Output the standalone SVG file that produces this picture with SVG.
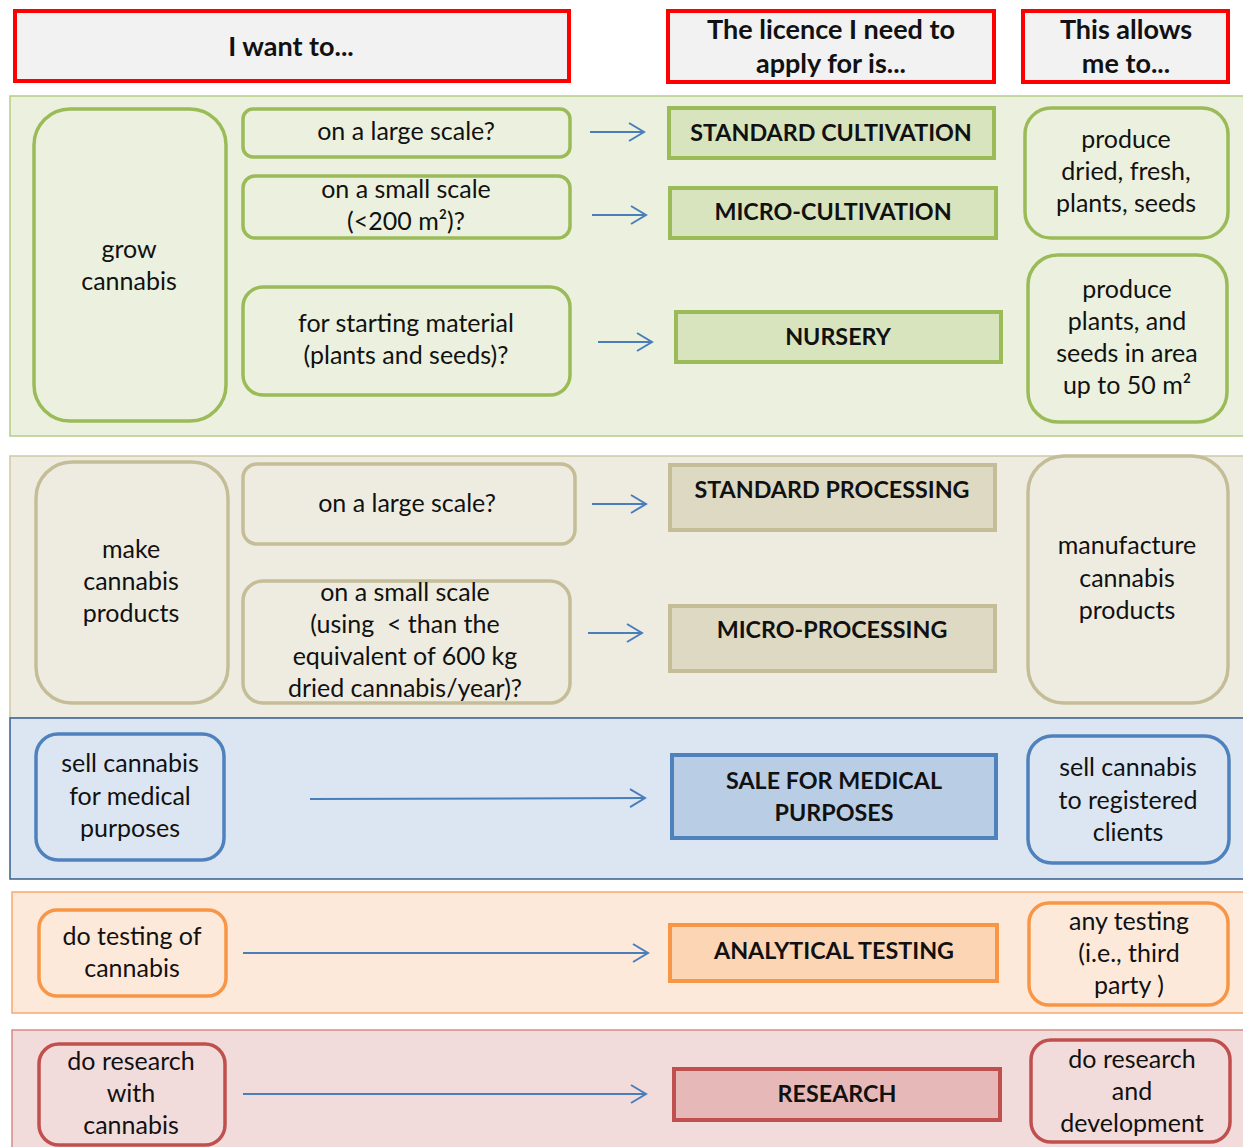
<svg xmlns="http://www.w3.org/2000/svg" width="1243" height="1147" viewBox="0 0 1243 1147">
<defs>
<marker id="ah" markerUnits="userSpaceOnUse" markerWidth="20" markerHeight="22" refX="16" refY="10" orient="auto" viewBox="0 0 20 20">
<path d="M1,1 L16,10 L1,19" fill="none" stroke="#4a7ebb" stroke-width="2"/>
</marker>
<style>
text{font-family:Lato,"Open Sans","Liberation Sans",sans-serif;font-size:25px;fill:#111;text-anchor:middle}
.b{font-weight:bold;font-size:23.3px}
.h{font-weight:bold;font-size:27px}
.pre{white-space:pre}
.hdr{fill:#f2f2f2;stroke:#ff0000;stroke-width:4}
.band{stroke-width:1.5}
.gB{fill:#ebf1de;stroke:#b5cc86}
.tB{fill:#eeece1;stroke:#cfc8a5}
.bB{fill:#dce6f2;stroke:#385d8a}
.oB{fill:#fde9d9;stroke:#f8a870}
.rB{fill:#f2dcdb;stroke:#d58a88}
.gN{fill:#ebf1de;stroke:#9bbb59;stroke-width:3.5}
.tN{fill:#eeece1;stroke:#c4bd97;stroke-width:3.5}
.bN{fill:#dce6f2;stroke:#4f81bd;stroke-width:3.5}
.oN{fill:#fde9d9;stroke:#f79646;stroke-width:3.5}
.rN{fill:#f2dcdb;stroke:#c0504d;stroke-width:3.5}
.gL{fill:#d7e4bd;stroke:#9bbb59;stroke-width:4}
.tL{fill:#ddd9c3;stroke:#c4bd97;stroke-width:4}
.bL{fill:#b9cde5;stroke:#4f81bd;stroke-width:4}
.oL{fill:#fcd5b5;stroke:#f79646;stroke-width:4}
.rL{fill:#e6b9b8;stroke:#c0504d;stroke-width:4}
.arr{stroke:#4a7ebb;stroke-width:2;fill:none;marker-end:url(#ah)}
</style>
</defs>
<rect width="1243" height="1147" fill="#ffffff"/>

<g id="bands">
<rect class="band gB" x="10" y="96" width="1250" height="340"/>
<rect class="band tB" x="10" y="456" width="1250" height="262"/>
<rect class="band bB" x="10" y="718" width="1250" height="161"/>
<rect class="band oB" x="12" y="892" width="1250" height="121"/>
<rect class="band rB" x="12" y="1030" width="1250" height="130"/>
</g>

<g id="header-want">
<rect class="hdr" x="15" y="11" width="554" height="70"/>
<text class="h" x="291" y="56">I want to...</text>
</g>
<g id="header-licence">
<rect class="hdr" x="668" y="11" width="326" height="71"/>
<text class="h" x="831" y="39">The licence I need to</text>
<text class="h" x="831" y="73">apply for is...</text>
</g>
<g id="header-allows">
<rect class="hdr" x="1023" y="11" width="205" height="71"/>
<text class="h" x="1126" y="39">This allows</text>
<text class="h" x="1126" y="73">me to...</text>
</g>

<g id="connectors">
<line class="arr" x1="590" y1="132" x2="644" y2="132"/>
<line class="arr" x1="592" y1="215" x2="646" y2="215"/>
<line class="arr" x1="598" y1="342" x2="652" y2="342"/>
<line class="arr" x1="592" y1="504" x2="646" y2="504"/>
<line class="arr" x1="588" y1="633" x2="642" y2="633"/>
<line class="arr" x1="310" y1="799" x2="645" y2="798"/>
<line class="arr" x1="243" y1="953" x2="648" y2="953"/>
<line class="arr" x1="243" y1="1094" x2="646" y2="1094"/>
</g>

<g id="grow-cannabis">
<rect class="gN" x="34" y="109" width="192" height="312" rx="36"/>
<text x="129" y="258">grow</text>
<text x="129" y="290">cannabis</text>
</g>
<g id="grow-large">
<rect class="gN" x="243" y="109" width="327" height="48" rx="10"/>
<text x="406" y="140">on a large scale?</text>
</g>
<g id="grow-small">
<rect class="gN" x="243" y="176" width="327" height="62" rx="12"/>
<text x="406" y="198">on a small scale</text>
<text x="406" y="230">(&lt;200 m²)?</text>
</g>
<g id="grow-starting">
<rect class="gN" x="243" y="287" width="327" height="108" rx="20"/>
<text x="406" y="332">for starting material</text>
<text x="406" y="364">(plants and seeds)?</text>
</g>
<g id="standard-cultivation">
<rect class="gL" x="669" y="108" width="325" height="50"/>
<text class="b" x="831" y="141">STANDARD CULTIVATION</text>
</g>
<g id="micro-cultivation">
<rect class="gL" x="670" y="188" width="326" height="50"/>
<text class="b" x="833" y="220">MICRO-CULTIVATION</text>
</g>
<g id="nursery">
<rect class="gL" x="676" y="312" width="325" height="50"/>
<text class="b" x="838" y="345">NURSERY</text>
</g>
<g id="produce-dried">
<rect class="gN" x="1025" y="108" width="203" height="130" rx="26"/>
<text x="1126" y="148">produce</text>
<text x="1126" y="180">dried, fresh,</text>
<text x="1126" y="212">plants, seeds</text>
</g>
<g id="produce-plants">
<rect class="gN" x="1028" y="255" width="199" height="167" rx="30"/>
<text x="1127" y="298">produce</text>
<text x="1127" y="330">plants, and</text>
<text x="1127" y="362">seeds in area</text>
<text x="1127" y="394">up to 50 m²</text>
</g>

<g id="make-products">
<rect class="tN" x="36" y="462" width="192" height="241" rx="36"/>
<text x="131" y="558">make</text>
<text x="131" y="590">cannabis</text>
<text x="131" y="622">products</text>
</g>
<g id="make-large">
<rect class="tN" x="243" y="464" width="332" height="80" rx="14"/>
<text x="407" y="512">on a large scale?</text>
</g>
<g id="make-small">
<rect class="tN" x="243" y="581" width="327" height="122" rx="20"/>
<text x="405" y="601">on a small scale</text>
<text class="pre" x="405" y="633">(using  &lt; than the</text>
<text x="405" y="665">equivalent of 600 kg</text>
<text x="405" y="697">dried cannabis/year)?</text>
</g>
<g id="standard-processing">
<rect class="tL" x="670" y="465" width="325" height="65"/>
<text class="b" x="832" y="498">STANDARD PROCESSING</text>
</g>
<g id="micro-processing">
<rect class="tL" x="670" y="606" width="325" height="65"/>
<text class="b" x="832" y="638">MICRO-PROCESSING</text>
</g>
<g id="manufacture">
<rect class="tN" x="1028" y="456" width="200" height="247" rx="36"/>
<text x="1127" y="554">manufacture</text>
<text x="1127" y="587">cannabis</text>
<text x="1127" y="619">products</text>
</g>

<g id="sell-medical">
<rect class="bN" x="36" y="734" width="188" height="126" rx="22"/>
<text x="130" y="772">sell cannabis</text>
<text x="130" y="805">for medical</text>
<text x="130" y="837">purposes</text>
</g>
<g id="sale-medical-licence">
<rect class="bL" x="672" y="755" width="324" height="83"/>
<text class="b" x="834" y="789">SALE FOR MEDICAL</text>
<text class="b" x="834" y="821">PURPOSES</text>
</g>
<g id="sell-registered">
<rect class="bN" x="1028" y="736" width="201" height="127" rx="24"/>
<text x="1128" y="776">sell cannabis</text>
<text x="1128" y="809">to registered</text>
<text x="1128" y="841">clients</text>
</g>

<g id="do-testing">
<rect class="oN" x="39" y="910" width="187" height="86" rx="18"/>
<text x="132" y="945">do testing of</text>
<text x="132" y="977">cannabis</text>
</g>
<g id="analytical-testing">
<rect class="oL" x="670" y="925" width="327" height="56"/>
<text class="b" x="834" y="959">ANALYTICAL TESTING</text>
</g>
<g id="any-testing">
<rect class="oN" x="1029" y="903" width="199" height="102" rx="20"/>
<text x="1129" y="930">any testing</text>
<text x="1129" y="962">(i.e., third</text>
<text x="1129" y="994">party )</text>
</g>

<g id="do-research">
<rect class="rN" x="39" y="1044" width="186" height="101" rx="20"/>
<text x="131" y="1070">do research</text>
<text x="131" y="1102">with</text>
<text x="131" y="1134">cannabis</text>
</g>
<g id="research">
<rect class="rL" x="674" y="1069" width="326" height="51"/>
<text class="b" x="837" y="1102">RESEARCH</text>
</g>
<g id="research-development">
<rect class="rN" x="1031" y="1040" width="199" height="102" rx="20"/>
<text x="1132" y="1068">do research</text>
<text x="1132" y="1100">and</text>
<text x="1132" y="1132">development</text>
</g>
</svg>
